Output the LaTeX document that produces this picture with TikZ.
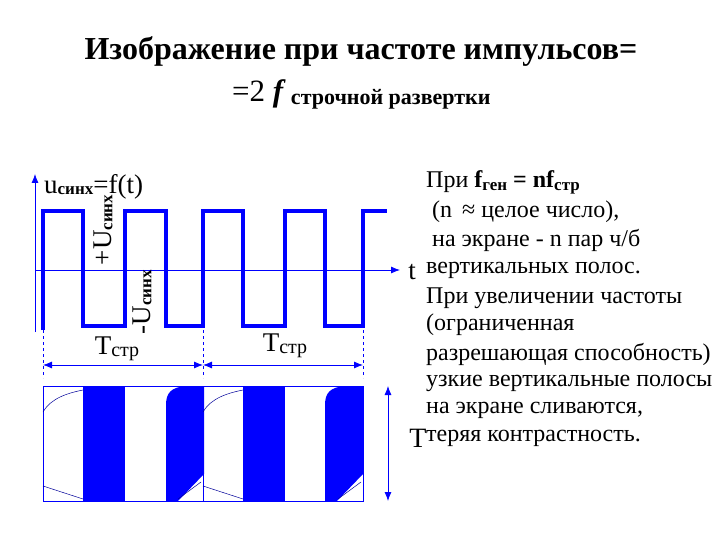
\documentclass[tikz,border=0pt]{standalone}
\usepackage{fontspec}
\setmainfont{Liberation Serif}
\usetikzlibrary{arrows.meta}
\begin{document}
\begin{tikzpicture}[x=1pt,y=-1pt,
  wave/.style={draw=blue,line width=4pt,line join=miter},
  thin/.style={draw=blue,line width=0.8pt},
  arr/.style={-{Latex[length=9pt,width=7pt]}},
  txt/.style={anchor=west,inner sep=0pt,font=\fontsize{24}{26}\selectfont},
  lab/.style={inner sep=0pt,font=\fontsize{27}{29}\selectfont}]
\useasboundingbox (0,0) rectangle (720,540);
% title
\node[inner sep=0pt,font=\fontsize{32}{34}\selectfont\bfseries] (t1) at (361,52) {Изображение при частоте импульсов=};
\node[inner sep=0pt,anchor=base west] (t2) at (232,102) {\fontsize{31}{33}\selectfont =2 \textbf{\textit{f}}\,\raisebox{-3pt}{\fontsize{22}{24}\selectfont\bfseries строчной развертки}};
% axes
\coordinate (ya) at (35,332); \coordinate (yb) at (35,174);
\draw[thin,arr] (ya) -- (yb);
\coordinate (xa) at (35,270); \coordinate (xb) at (400,270);
\draw[thin,arr] (xa) -- (xb);
\node[lab] (tt) at (412,272) {t};
% waveform
\draw[wave] (43,330) -- (43,211) -- (83,211) -- (83,326) -- (125,326) -- (125,211) -- (166,211) -- (166,326) -- (203,326) -- (203,211) -- (243,211) -- (243,326) -- (285,326) -- (285,211) -- (325,211) -- (325,326) -- (363,326) -- (363,211) -- (387,211);
\node[inner sep=0pt,anchor=west,font=\fontsize{27}{29}\selectfont] (ul) at (44,187) {u\raisebox{-1pt}{\fontsize{17}{18}\selectfont\bfseries синх}=f(t)};
\node[inner sep=0pt,rotate=90,font=\fontsize{27}{29}\selectfont] (up) at (103,230) {+U\raisebox{-1pt}{\fontsize{17}{18}\selectfont\bfseries синх}};
\node[inner sep=0pt,rotate=90,font=\fontsize{27}{29}\selectfont] (um) at (142,302) {-U\raisebox{-1pt}{\fontsize{17}{18}\selectfont\bfseries синх}};
% dimension lines
\foreach \x/\n in {43/a,203/b,363/c}{
  \coordinate (d\n1) at (\x,330); \coordinate (d\n2) at (\x,378);
  \draw[thin,dashed] (d\n1) -- (d\n2);
  \coordinate (m\n) at (\x,365);}
\draw[thin,{Latex[length=9pt,width=7pt]}-{Latex[length=9pt,width=7pt]}] (ma) -- (mb);
\draw[thin,{Latex[length=9pt,width=7pt]}-{Latex[length=9pt,width=7pt]}] (mb) -- (mc);
\node[lab] (T1) at (117,349) {Т\raisebox{-2pt}{\fontsize{20}{22}\selectfont стр}};
\node[lab] (T2) at (285,346) {Т\raisebox{-2pt}{\fontsize{20}{22}\selectfont стр}};
% screen
\fill[blue] (83,386) rectangle (125,501);
\fill[blue] (243,386) rectangle (285,501);
\foreach \x in {166,325}{
  \fill[blue] (\x,501) -- (\x,405) .. controls (\x,392) and (\x+6,388) .. (\x+18,386) -- (\x+38,386) -- (\x+38,474) -- (\x+12,501) -- cycle;}
\draw[thin] (43,386) rectangle (363,501);
\draw[thin] (203,386) -- (203,501);
\foreach \x in {43,203}{
  \draw[blue!60!black,line width=0.5pt] (\x,412) .. controls (\x+8,398) and (\x+25,393) .. (\x+40,390);
  \draw[blue!60!black,line width=0.5pt] (\x,486) -- (\x+40,499);
  \draw[blue!60!black,line width=0.5pt] (\x+135,499) -- (\x+158,482);}
\coordinate (va) at (388,386); \coordinate (vb) at (388,501);
\draw[thin,{Latex[length=9pt,width=7pt]}-{Latex[length=9pt,width=7pt]}] (va) -- (vb);
\node[lab,font=\fontsize{28}{30}\selectfont] (Tv) at (418,438) {Т};
% right text
\node[txt] (r1) at (426,182) {При \textbf{f\raisebox{-3pt}{\fontsize{17}{18}\selectfont ген} = nf\raisebox{-3pt}{\fontsize{17}{18}\selectfont стр}}};
\node[txt] (r2) at (432,212) {(n \,≈ целое число),};
\node[txt] (r3) at (432,240) {на экране - n пар ч/б};
\node[txt] (r4) at (426,270) {вертикальных полос.};
\node[txt] (r5) at (426,298) {При увеличении частоты};
\node[txt] (r6) at (426,325) {(ограниченная};
\node[txt] (r7) at (426,354) {разрешающая способность)};
\node[txt] (r8) at (426,383) {узкие вертикальные полосы};
\node[txt] (r9) at (426,410) {на экране сливаются,};
\node[txt] (r10) at (426,438) {теряя контрастность.};
\end{tikzpicture}
\end{document}
